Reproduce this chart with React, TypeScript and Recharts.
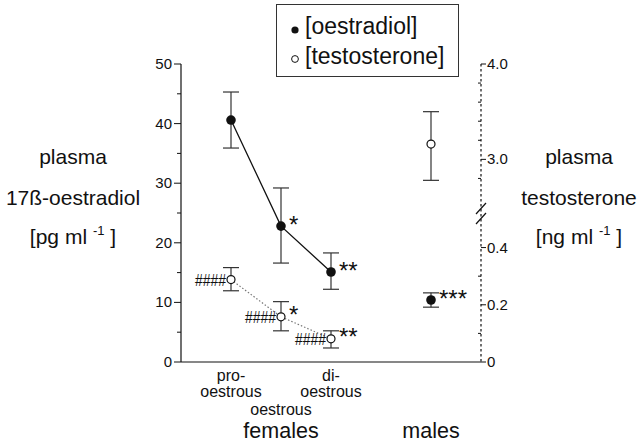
import { ComposedChart, Scatter, XAxis, YAxis, ErrorBar, ReferenceDot } from 'recharts'

const W = 640
const H = 444
const FONT = '"Liberation Sans", Arial, Helvetica, sans-serif'
const INK = '#111'

// x positions: oestrous-cycle stages in females, then the male group
const STAGE_X = [1, 2, 3]
const MALE_X = [5]
const stageLabels = [['pro-', 'oestrous'], ['oestrous'], ['di-', 'oestrous']]
const groupLabels = ['females', 'males']
const groupX = [2, 5]

// plasma 17ß-oestradiol, pg/ml (mean, lower, upper)
const oeFemale = [40.6, 22.8, 15.1]
const oeFemaleLow = [35.9, 16.6, 12.2]
const oeFemaleHigh = [45.3, 29.2, 18.3]
const oeFemaleMarks = ['', '*', '**']
const oeMale = [10.4]
const oeMaleLow = [9.2]
const oeMaleHigh = [11.6]
const oeMaleMarks = ['***']

// plasma testosterone, ng/ml (mean, lower, upper)
const teFemale = [0.288, 0.158, 0.081]
const teFemaleLow = [0.249, 0.109, 0.049]
const teFemaleHigh = [0.33, 0.211, 0.109]
const teFemaleMarks = ['', '*', '**']
const teFemaleHash = ['####', '####', '####']
const teMale = [3.16]
const teMaleLow = [2.78]
const teMaleHigh = [3.5]

const leftTicks = [0, 5, 10, 15, 20, 25, 30, 35, 40, 45, 50]
const rightTicks = [0, 0.1, 0.2, 0.3, 0.4, 2.8, 3.0, 3.2, 3.4, 3.6, 3.8, 4.0]
const rightLabels = ['0', '', '0.2', '', '0.4', '', '3.0', '', '', '', '', '4.0']

// broken right axis: 0-0.5 ng/ml on the lower part, 2.5-4 ng/ml on the upper part
const toPlot = (t: number) => (t <= 0.5 ? t * 48 : 50 - (4 - t) * 16)
const AXIS_BREAK = 25
const ident = (v: number) => v

const makeRows = (xs: number[], v: number[], lo: number[], hi: number[], conv: (n: number) => number, marks: string[] = [], hash: string[] = []) =>
  xs.map((x, i) => {
    const y = conv(v[i])
    return { x, y, err: [y - conv(lo[i]), conv(hi[i]) - y], mark: marks[i] || '', hash: hash[i] || '' }
  })

const oeFemaleRows = makeRows(STAGE_X, oeFemale, oeFemaleLow, oeFemaleHigh, ident, oeFemaleMarks)
const oeMaleRows = makeRows(MALE_X, oeMale, oeMaleLow, oeMaleHigh, ident, oeMaleMarks)
const teFemaleRows = makeRows(STAGE_X, teFemale, teFemaleLow, teFemaleHigh, toPlot, teFemaleMarks, teFemaleHash)
const teMaleRows = makeRows(MALE_X, teMale, teMaleLow, teMaleHigh, toPlot)

const FilledDot = (p: any) => (
  <g>
    <circle cx={p.cx} cy={p.cy} r={4.8} fill={INK} />
    {p.payload.mark && (
      <text x={p.cx + 8} y={p.cy + 7} fontSize={24} fill={INK} fontFamily={FONT}>{p.payload.mark}</text>
    )}
  </g>
)

const OpenDot = (p: any) => (
  <g>
    <circle cx={p.cx} cy={p.cy} r={4} fill="#fff" stroke={INK} strokeWidth={1.2} />
    {p.payload.hash && (
      <text x={p.cx - 5} y={p.cy + 6} fontSize={17} textAnchor="end" textLength={31} lengthAdjust="spacingAndGlyphs" fill={INK} fontFamily={FONT}>{p.payload.hash}</text>
    )}
    {p.payload.mark && (
      <text x={p.cx + 8} y={p.cy + 6} fontSize={24} fill={INK} fontFamily={FONT}>{p.payload.mark}</text>
    )}
  </g>
)

const XTick = ({ x, y, payload }: any) => {
  const v = payload.value
  const si = STAGE_X.indexOf(v)
  const gi = groupX.indexOf(v)
  const lines = si >= 0 ? stageLabels[si] : []
  const dys = lines.length === 2 ? [19, 35] : [53]
  return (
    <g fontFamily={FONT} fill={INK}>
      {lines.map((t, i) => (
        <text key={i} x={x} y={y + dys[i]} textAnchor="middle" fontSize={16}>{t}</text>
      ))}
      {gi >= 0 && <text x={x} y={y + 76} textAnchor="middle" fontSize={21.5}>{groupLabels[gi]}</text>}
    </g>
  )
}

const LeftTick = ({ x, y, payload }: any) => {
  const major = payload.value % 10 === 0
  return (
    <g>
      <line x1={x - (major ? 7 : 4)} x2={x} y1={y} y2={y} stroke={INK} strokeWidth={1} />
      {major && (
        <text x={x - 9} y={y + 5} textAnchor="end" fontSize={15} fill={INK} fontFamily={FONT}>{payload.value}</text>
      )}
    </g>
  )
}

const RightTick = ({ x, y, index }: any) => {
  const label = rightLabels[index]
  return (
    <g>
      {label
        ? <line x1={x} x2={x + 5} y1={y} y2={y} stroke={INK} strokeWidth={1} />
        : <line x1={x - 3} x2={x} y1={y} y2={y} stroke={INK} strokeWidth={1} />}
      {label && (
        <text x={x + 6} y={y + 5} fontSize={15} fill={INK} fontFamily={FONT}>{label}</text>
      )}
    </g>
  )
}

const AxisTitle = ({ cx, top, lines }: { cx: number; top: number; lines: [string, string, string] }) => (
  <g fontFamily={FONT} fontSize={21} fill={INK} textAnchor="middle">
    <text x={cx} y={top + 100}>{lines[0]}</text>
    <text x={cx} y={top + 141}>{lines[1]}</text>
    <text x={cx} y={top + 180}>
      <tspan>{lines[2]}</tspan>
      <tspan fontSize={13} dy={-9}>-1</tspan>
      <tspan dy={9}> ]</tspan>
    </text>
  </g>
)

const LeftTitle = (p: any) => {
  const vb = p.viewBox || { x: 121, y: 64 }
  return <AxisTitle cx={vb.x - 48} top={vb.y} lines={['plasma', '17ß-oestradiol', '[pg ml ']} />
}

const RightTitle = (p: any) => {
  const vb = p.viewBox || { x: 481, y: 64 }
  return <AxisTitle cx={vb.x + 98} top={vb.y} lines={['plasma', 'testosterone', '[ng ml ']} />
}

const BreakMark = (p: any) => (
  <g stroke={INK} strokeWidth={1.2}>
    <line x1={p.cx - 5} y1={p.cy + 1} x2={p.cx + 5} y2={p.cy - 10} />
    <line x1={p.cx - 5} y1={p.cy + 11} x2={p.cx + 5} y2={p.cy} />
  </g>
)

const LegendBox = () => (
  <div style={{ position: 'absolute', left: 276, top: 4, width: 181, height: 71, border: '1.5px solid #333', background: '#fff' }}>
    <svg width={181} height={71} style={{ display: 'block' }}>
      <circle cx={18} cy={25} r={3.6} fill={INK} />
      <text x={28} y={29} fontSize={23} fill={INK} fontFamily={FONT}>[oestradiol]</text>
      <circle cx={18} cy={54} r={3.4} fill="#fff" stroke={INK} strokeWidth={1} />
      <text x={28} y={59} fontSize={23} fill={INK} fontFamily={FONT}>[testosterone]</text>
    </svg>
  </div>
)

export default function App() {
  return (
    <div style={{ position: 'absolute', left: 0, top: 0, width: W, height: H, background: '#fff', fontFamily: FONT }}>
      <ComposedChart width={W} height={H} margin={{ top: 64, right: 99, bottom: 2, left: 121 }}>
        <XAxis
          type="number"
          dataKey="x"
          domain={[0, 6]}
          ticks={[1, 2, 3, 5]}
          interval={0}
          height={80}
          tickLine={false}
          tickSize={0}
          tickMargin={0}
          axisLine={{ stroke: INK, strokeWidth: 1.2 }}
          tick={XTick}
          allowDataOverflow
        />
        <YAxis
          yAxisId="l"
          domain={[0, 50]}
          ticks={leftTicks}
          interval={0}
          width={60}
          tickLine={false}
          tickSize={0}
          tickMargin={0}
          axisLine={{ stroke: INK, strokeWidth: 1.2 }}
          tick={LeftTick}
          label={{ content: LeftTitle }}
          allowDataOverflow
        />
        <YAxis
          yAxisId="r"
          orientation="right"
          domain={[0, 50]}
          ticks={rightTicks.map(toPlot)}
          interval={0}
          width={60}
          tickLine={false}
          tickSize={0}
          tickMargin={0}
          axisLine={{ stroke: INK, strokeWidth: 1.2, strokeDasharray: '2.5 2.5' }}
          tick={RightTick}
          label={{ content: RightTitle }}
          allowDataOverflow
        />
        <ReferenceDot yAxisId="r" x={6} y={AXIS_BREAK} r={0} shape={BreakMark} ifOverflow="visible" />

        <Scatter yAxisId="r" data={teFemaleRows} dataKey="y" line={{ stroke: '#777', strokeWidth: 1.2, strokeDasharray: '1.5 2' }} lineType="joint" shape={OpenDot} isAnimationActive={false}>
          <ErrorBar dataKey="err" direction="y" width={8} stroke="#333" strokeWidth={1.2} />
        </Scatter>
        <Scatter yAxisId="r" data={teMaleRows} dataKey="y" shape={OpenDot} isAnimationActive={false}>
          <ErrorBar dataKey="err" direction="y" width={8} stroke="#333" strokeWidth={1.2} />
        </Scatter>
        <Scatter yAxisId="l" data={oeFemaleRows} dataKey="y" line={{ stroke: INK, strokeWidth: 1.3 }} lineType="joint" shape={FilledDot} isAnimationActive={false}>
          <ErrorBar dataKey="err" direction="y" width={8} stroke="#333" strokeWidth={1.2} />
        </Scatter>
        <Scatter yAxisId="l" data={oeMaleRows} dataKey="y" shape={FilledDot} isAnimationActive={false}>
          <ErrorBar dataKey="err" direction="y" width={8} stroke="#333" strokeWidth={1.2} />
        </Scatter>
      </ComposedChart>
      <LegendBox />
    </div>
  )
}
